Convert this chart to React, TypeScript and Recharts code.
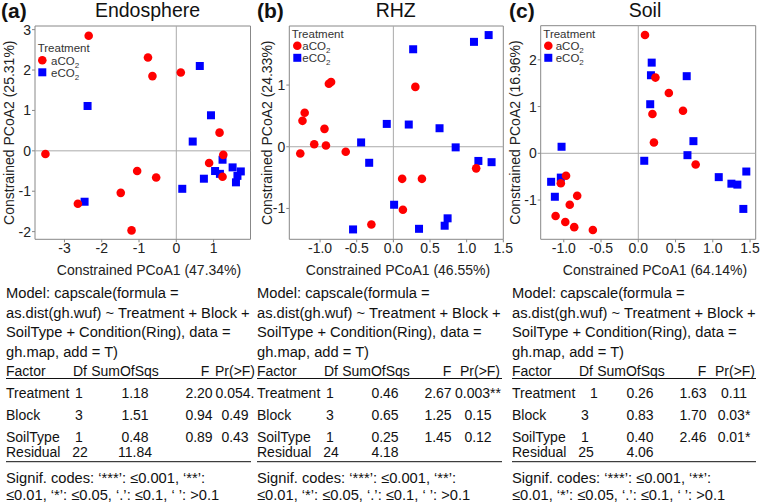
import React from "react";
import {
  ScatterChart,
  Scatter,
  XAxis,
  YAxis,
  ReferenceLine,
  ReferenceArea,
} from "recharts";

const FONT = "'Liberation Sans', Arial, Helvetica, sans-serif";

// ---- scatter data: [PCoA1, PCoA2] ----
const endoA: [number, number][] = [
  [-2.35, 2.85], [-0.76, 2.31], [-0.64, 1.85], [0.12, 1.94], [1.16, 0.45],
  [1.26, -0.1], [0.88, -0.3], [1.24, -0.64], [-3.51, -0.08], [-1.05, -0.5],
  [-0.54, -0.66], [-1.49, -1.04], [-2.64, -1.31], [-1.2, -1.97],
];
const endoE: [number, number][] = [
  [0.63, 2.1], [-2.38, 1.11], [0.93, 0.88], [0.44, 0.23], [1.24, -0.22],
  [1.51, -0.41], [1.04, -0.5], [1.17, -0.57], [0.74, -0.69], [1.73, -0.51],
  [1.64, -0.62], [1.6, -0.78], [0.16, -0.94], [-2.46, -1.26],
];

const rhzA: [number, number][] = [
  [-1.27, -0.11], [-1.24, 0.42], [-1.21, 0.55], [-0.88, 1.02], [-0.85, 1.05],
  [-0.94, 0.29], [-1.08, 0.04], [-0.92, 0.02], [-0.65, -0.08], [0.3, 0.97],
  [0.12, -0.52], [0.39, -0.52], [0.13, -1.02], [-0.3, -1.26], [1.13, -0.35],
];
const rhzE: [number, number][] = [
  [0.27, 1.58], [1.1, 1.7], [1.3, 1.81], [-0.09, 0.37], [0.21, 0.36],
  [0.63, 0.3], [-0.44, 0.07], [-0.33, -0.26], [0.85, -0.01], [1.16, -0.23],
  [1.34, -0.25], [0.01, -0.94], [-0.55, -1.34], [0.35, -1.33], [0.74, -1.16],
  [0.7, -1.28],
];

const soilA: [number, number][] = [
  [0.09, 2.53], [0.23, 1.62], [0.41, 1.29], [0.6, 0.91], [0.19, 0.84],
  [0.21, 0.23], [0.77, -0.24], [-0.97, -0.48], [-1.04, -0.64], [-0.82, -0.91],
  [-0.92, -1.1], [-1.11, -1.34], [-0.98, -1.47], [-0.86, -1.58], [-0.61, -1.64],
];
const soilE: [number, number][] = [
  [0.18, 1.94], [0.17, 1.67], [0.65, 1.65], [0.16, 1.05], [0.74, 0.26],
  [0.66, -0.04], [0.08, -0.16], [-1.03, 0.14], [-1.17, -0.61], [-1.04, -0.52],
  [-1.12, -0.93], [1.08, -0.51], [1.25, -0.65], [1.33, -0.67], [1.45, -0.39],
  [1.41, -1.19],
];

// ---- tick values ----
const endoXTicks = [-3, -2, -1, 0, 1];
const endoYTicks = [-2, -1, 0, 1, 2, 3];
const rhzXTicks = [-1, -0.5, 0, 0.5, 1, 1.5];
const rhzYTicks = [-1, 0, 1];
const soilXTicks = [-1, -0.5, 0, 0.5, 1, 1.5];
const soilYTicks = [-1, 0, 1, 2];

// ---- permanova tables ----
const factors = ["Treatment", "Block", "SoilType", "Residual"];
const endoDf = ["1", "3", "1", "22"];
const endoSS = ["1.18", "1.51", "0.48", "11.84"];
const endoF = ["2.20", "0.94", "0.89", ""];
const endoP = ["0.054.", "0.49", "0.43", ""];
const rhzDf = ["1", "3", "1", "24"];
const rhzSS = ["0.46", "0.65", "0.25", "4.18"];
const rhzF = ["2.67", "1.25", "1.45", ""];
const rhzP = ["0.003**", "0.15", "0.12", ""];
const soilDf = ["1", "3", "1", "25"];
const soilSS = ["0.26", "0.83", "0.40", "4.06"];
const soilF = ["1.63", "1.70", "2.46", ""];
const soilP = ["0.11", "0.03*", "0.01*", ""];

const modelLines = [
  "Model: capscale(formula =",
  "as.dist(gh.wuf) ~ Treatment + Block +",
  "SoilType + Condition(Ring), data =",
  "gh.map, add = T)",
];
const signifLines = [
  "Signif. codes:  \u2018***\u2019: \u22640.001, \u2018**\u2019:",
  "\u22640.01, \u2018*\u2019: \u22640.05, \u2018.\u2019: \u22640.1, \u2018 \u2019: >0.1",
];

const toPts = (arr: [number, number][]) => arr.map(([x, y]) => ({ x, y }));

const RedDot = (p: any) => <circle cx={p.cx} cy={p.cy} r={4.3} fill="#ff0000" />;
const BlueSq = (p: any) => (
  <rect x={p.cx - 4} y={p.cy - 4} width={8} height={8} fill="#0000ff" />
);

type PanelProps = {
  left: number;
  width: number;
  height: number;
  box: { x1: number; x2: number; y1: number; y2: number };
  xDomain: [number, number];
  yDomain: [number, number];
  xTicks: number[];
  yTicks: number[];
  xFmt?: (v: number) => string;
  a: [number, number][];
  e: [number, number][];
};

function Panel({ left, width, height, box, xDomain, yDomain, xTicks, yTicks, xFmt, a, e }: PanelProps) {
  const xH = 20;
  const tickStyle = { fontSize: 14, fill: "#222", fontFamily: FONT };
  return (
    <div style={{ position: "absolute", left, top: 0, width, height }}>
      <ScatterChart
        width={width}
        height={height}
        margin={{ top: box.y1, left: 0, right: left + width - box.x2, bottom: height - box.y2 - xH }}
      >
        <XAxis
          dataKey="x"
          type="number"
          domain={xDomain}
          ticks={xTicks}
          allowDataOverflow
          interval={0}
          height={xH}
          tickSize={3}
          tickMargin={1}
          axisLine={false}
          tickLine={{ stroke: "#888" }}
          tick={tickStyle}
          tickFormatter={xFmt}
        />
        <YAxis
          dataKey="y"
          type="number"
          domain={yDomain}
          ticks={yTicks}
          allowDataOverflow
          interval={0}
          width={box.x1 - left}
          tickSize={3}
          tickMargin={1}
          axisLine={false}
          tickLine={{ stroke: "#888" }}
          tick={tickStyle}
        />
        <ReferenceLine x={0} stroke="#aaa" />
        <ReferenceLine y={0} stroke="#aaa" />
        <ReferenceArea
          x1={xDomain[0]}
          x2={xDomain[1]}
          y1={yDomain[0]}
          y2={yDomain[1]}
          fill="none"
          stroke="#888"
          strokeWidth={1}
        />
        <Scatter data={toPts(e)} shape={BlueSq} isAnimationActive={false} />
        <Scatter data={toPts(a)} shape={RedDot} isAnimationActive={false} />
      </ScatterChart>
    </div>
  );
}

const fmt1 = (v: number) => v.toFixed(1);

function Legend({ x, y, dx, cx }: { x: number; y: number; dx: number; cx: number }) {
  return (
    <g fontSize={11.5} fill="#333">
      <text x={x} y={y}>Treatment</text>
      <circle cx={cx} cy={y + 8.3} r={4.3} fill="#ff0000" />
      <text x={dx} y={y + 12.5}>
        aCO<tspan fontSize={8} dy={3}>2</tspan>
      </text>
      <rect x={cx - 4} y={y + 20.3 - 4} width={8} height={8} fill="#0000ff" />
      <text x={dx} y={y + 24.5}>
        eCO<tspan fontSize={8} dy={3}>2</tspan>
      </text>
    </g>
  );
}

type TableProps = {
  x0: number;
  x1: number;
  dfX: number[];
  ssX: number;
  fX: number;
  pX: number;
  hdr: [number, number, number, number];
  df: string[];
  ss: string[];
  f: string[];
  p: string[];
};

const rowY = [398, 420, 441.5, 457.2];

function TextBlock({ x0, x1, dfX, ssX, fX, pX, hdr, df, ss, f, p }: TableProps) {
  return (
    <g fill="#111">
      <g fontSize={14.7}>
        {modelLines.map((l, i) => (
          <text key={l} x={x0} y={298 + i * 19.5}>{l}</text>
        ))}
      </g>
      <g fontSize={14}>
        <text x={x0} y={376}>Factor</text>
        <text x={hdr[0]} y={376} textAnchor="middle">Df</text>
        <text x={hdr[1]} y={376} textAnchor="middle">SumOfSqs</text>
        <text x={hdr[2]} y={376} textAnchor="middle">F</text>
        <text x={hdr[3]} y={376} textAnchor="middle">Pr(&gt;F)</text>
        {factors.map((name, i) => (
          <g key={name}>
            <text x={x0} y={rowY[i]}>{name}</text>
            <text x={dfX[i]} y={rowY[i]} textAnchor="middle">{df[i]}</text>
            <text x={ssX} y={rowY[i]} textAnchor="middle">{ss[i]}</text>
            <text x={fX} y={rowY[i]} textAnchor="middle">{f[i]}</text>
            <text x={pX} y={rowY[i]} textAnchor="middle">{p[i]}</text>
          </g>
        ))}
      </g>
      <line x1={x0} x2={x1} y1={378.5} y2={378.5} stroke="#111" strokeWidth={1} />
      <line x1={x0} x2={x1} y1={461.7} y2={461.7} stroke="#111" strokeWidth={1} />
      <g fontSize={14.7}>
        <text x={x0} y={483}>{signifLines[0]}</text>
        <text x={x0} y={500}>{signifLines[1]}</text>
      </g>
    </g>
  );
}

export default function App() {
  return (
    <div
      style={{
        position: "absolute",
        left: 0,
        top: 0,
        width: 760,
        height: 503,
        background: "#fff",
        fontFamily: FONT,
        overflow: "hidden",
      }}
    >
      <Panel
        left={0}
        width={255}
        height={290}
        box={{ x1: 35, x2: 250.5, y1: 26, y2: 239.3 }}
        xDomain={[-3.79, 1.99]}
        yDomain={[-2.19, 3.09]}
        xTicks={endoXTicks}
        yTicks={endoYTicks}
        a={endoA}
        e={endoE}
      />
      <Panel
        left={255}
        width={262}
        height={290}
        box={{ x1: 289.3, x2: 503.3, y1: 26, y2: 239.3 }}
        xDomain={[-1.42, 1.5]}
        yDomain={[-1.5, 1.957]}
        xTicks={rhzXTicks}
        yTicks={rhzYTicks}
        xFmt={fmt1}
        a={rhzA}
        e={rhzE}
      />
      <Panel
        left={505}
        width={255}
        height={290}
        box={{ x1: 540.7, x2: 755.7, y1: 25.7, y2: 239.3 }}
        xDomain={[-1.31, 1.576]}
        yDomain={[-1.84, 2.73]}
        xTicks={soilXTicks}
        yTicks={soilYTicks}
        xFmt={fmt1}
        a={soilA}
        e={soilE}
      />
      <svg
        width={760}
        height={503}
        style={{ position: "absolute", left: 0, top: 0, pointerEvents: "none" }}
        fontFamily={FONT}
      >
        {/* titles */}
        <text x={1} y={17.5} fontSize={21} fontWeight="bold" fill="#111">(a)</text>
        <text x={147.5} y={17.3} fontSize={19.5} textAnchor="middle" fill="#111">Endosphere</text>
        <text x={257} y={17.5} fontSize={21} fontWeight="bold" fill="#111">(b)</text>
        <text x={395.7} y={17.3} fontSize={19.5} textAnchor="middle" fill="#111">RHZ</text>
        <text x={509} y={17.5} fontSize={21} fontWeight="bold" fill="#111">(c)</text>
        <text x={645} y={17.3} fontSize={19.5} textAnchor="middle" fill="#111">Soil</text>

        {/* axis titles */}
        <g fontSize={14} fill="#222">
          <text x={149} y={275} textAnchor="middle">Constrained PCoA1 (47.34%)</text>
          <text x={398} y={275} textAnchor="middle">Constrained PCoA1 (46.55%)</text>
          <text x={655} y={275} textAnchor="middle">Constrained PCoA1 (64.14%)</text>
          <text transform="translate(9,132.7) rotate(-90)" textAnchor="middle" dominantBaseline="central">
            Constrained PCoA2 (25.31%)
          </text>
          <text transform="translate(267,132.7) rotate(-90)" textAnchor="middle" dominantBaseline="central">
            Constrained PCoA2 (24.33%)
          </text>
          <text transform="translate(515,132.5) rotate(-90)" textAnchor="middle" dominantBaseline="central">
            Constrained PCoA2 (16.96%)
          </text>
        </g>

        <Legend x={37.7} y={52} dx={51} cx={42.3} />
        <Legend x={291.7} y={37.5} dx={302.3} cx={297.3} />
        <Legend x={543.3} y={37.5} dx={555.7} cx={548.3} />

        <TextBlock
          x0={6}
          x1={251}
          dfX={[79, 79, 79, 80]}
          ssX={135}
          fX={199}
          pX={235}
          hdr={[80, 125, 205, 235]}
          df={endoDf}
          ss={endoSS}
          f={endoF}
          p={endoP}
        />
        <TextBlock
          x0={257}
          x1={502}
          dfX={[330, 330, 330, 331]}
          ssX={385}
          fX={438}
          pX={478}
          hdr={[331, 376, 447, 480]}
          df={rhzDf}
          ss={rhzSS}
          f={rhzF}
          p={rhzP}
        />
        <TextBlock
          x0={512}
          x1={756}
          dfX={[594, 585, 585, 586]}
          ssX={640}
          fX={693}
          pX={734}
          hdr={[586, 631, 702, 735]}
          df={soilDf}
          ss={soilSS}
          f={soilF}
          p={soilP}
        />
      </svg>
    </div>
  );
}
